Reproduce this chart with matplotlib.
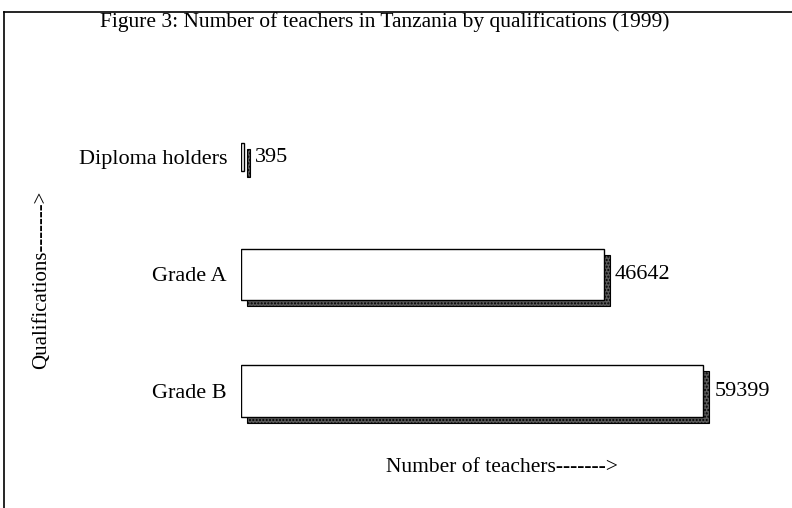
import matplotlib.pyplot as plt
from matplotlib.lines import Line2D
from matplotlib.transforms import ScaledTranslation

# data
qualifications = ["Diploma holders", "Grade A", "Grade B"]
teachers = [395, 46642, 59399]

plt.rcParams['font.family'] = ['Liberation Serif', 'DejaVu Serif']

fig = plt.figure(figsize=(7.92, 5.08), dpi=100)
ax = fig.add_axes([241 / 792, 1 - 438 / 508, 544.6 / 792, 386 / 508])

positions = list(range(len(qualifications)))
heights = [0.24, 0.44, 0.44]

# shadow bars, shifted right and down a few pixels
shadow = ScaledTranslation(6 / 100, -6 / 100, fig.dpi_scale_trans)
sb = ax.barh(positions, teachers, height=heights, color='#5a5a5a',
             edgecolor='black', linewidth=0.8, hatch='.....')
for p in sb:
    p.set_transform(ax.transData + shadow)

ax.barh(positions, teachers, height=heights, color='white',
        edgecolor='black', linewidth=1.0)

for pos, val in zip(positions, teachers):
    ax.annotate(str(val), (val, pos), xytext=(8, 0), textcoords='offset points',
                va='center', ha='left', fontsize=16)

ax.set_xlim(0, 70000)
ax.set_ylim(2.4, -0.9)
ax.set_yticks(positions)
ax.set_yticklabels(qualifications, fontsize=16)
ax.tick_params(axis='y', length=0, pad=10)
ax.set_xticks([])
for s in ax.spines.values():
    s.set_visible(False)

fig.text(385 / 792, 1 - 22 / 508, "Figure 3: Number of teachers in Tanzania by qualifications (1999)",
         ha='center', va='center', fontsize=15.5)
fig.text(502 / 792, 1 - 468 / 508, "Number of teachers------->",
         ha='center', va='center', fontsize=15.5)
fig.text(42 / 792, 1 - 280 / 508, "Qualifications------->",
         ha='center', va='center', rotation=90, fontsize=15)

# outer frame (left and top)
fig.add_artist(Line2D([4 / 792, 4 / 792], [0, 1 - 12 / 508], color='black', linewidth=1.2))
fig.add_artist(Line2D([4 / 792, 1], [1 - 12 / 508, 1 - 12 / 508], color='black', linewidth=1.2))

fig.savefig('out.png', dpi=100)
